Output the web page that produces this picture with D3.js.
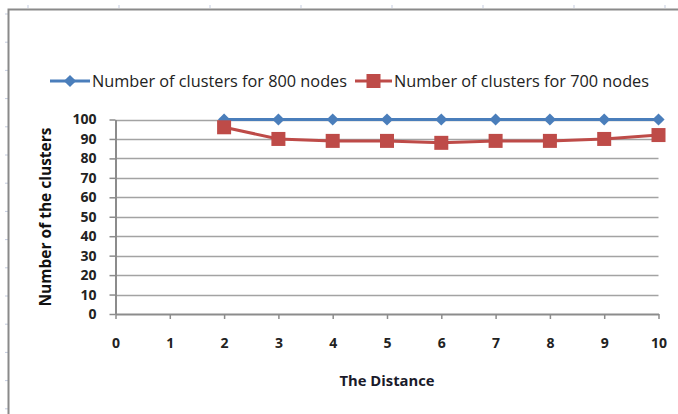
<!DOCTYPE html>
<html>
  <head>
    <meta charset="utf-8">
    <title>Number of clusters</title>
    <script src="https://d3js.org/d3.v7.min.js" charset="utf-8"></script>
    <style>
      body {
        margin: 0;
        overflow: hidden;
        background: #fff;
      }
      text {
        font-family: "Open Sans", "Liberation Sans", Arial, sans-serif;
      }
    </style>
  </head>
  <body>
    <script type="text/javascript">
      var width = 678,
          height = 414;

      // data
      var distance = [2, 3, 4, 5, 6, 7, 8, 9, 10];
      var clusters800 = [100, 100, 100, 100, 100, 100, 100, 100, 100];
      var clusters700 = [96, 90, 89, 89, 88, 89, 89, 90, 92];
      var seriesNames = ["Number of clusters for 800 nodes", "Number of clusters for 700 nodes"];
      var xTicks = [0, 1, 2, 3, 4, 5, 6, 7, 8, 9, 10];
      var yTicks = [0, 10, 20, 30, 40, 50, 60, 70, 80, 90, 100];

      var blue = "#4a7ebb",
          red = "#be4b48";

      var svg = d3.select("body").append("svg")
                  .attr("width", width)
                  .attr("height", height);

      // sheet ruler marks + chart frame
      var rulerX = d3.range(28, width, 91);
      var rulerY = d3.range(14, height, 28.2);
      svg.selectAll(".rx").data(rulerX).enter().append("line")
        .attr("x1", d => d).attr("x2", d => d)
        .attr("y1", 5).attr("y2", 8)
        .attr("stroke", "#c5cde0");
      svg.selectAll(".ry").data(rulerY).enter().append("line")
        .attr("y1", d => d).attr("y2", d => d)
        .attr("x1", 5).attr("x2", 8)
        .attr("stroke", "#c5cde0");
      svg.append("path")
        .attr("d", "M8.5," + height + "V9.5H" + width)
        .attr("fill", "none")
        .attr("stroke", "#8a8a8a")
        .attr("stroke-width", 2);

      var x = d3.scaleLinear().domain([0, 10]).range([115.5, 658.5]);
      var y = d3.scaleLinear().domain([0, 100]).range([314, 119.5]);

      var g = svg.append("g");

      // gridlines
      g.selectAll(".grid").data(yTicks.slice(1)).enter().append("line")
        .attr("x1", x(0)).attr("x2", x(10))
        .attr("y1", d => Math.round(y(d)) + 0.5).attr("y2", d => Math.round(y(d)) + 0.5)
        .attr("stroke", "#a3a3a3")
        .attr("stroke-width", 1.3);

      // y axis
      var yAxis = g.append("g")
        .attr("transform", "translate(" + x(0) + ",0)")
        .call(d3.axisLeft(y).tickValues(yTicks).tickSize(6).tickPadding(13).tickSizeOuter(0));
      // x axis
      var xAxis = g.append("g")
        .attr("transform", "translate(0," + y(0) + ")")
        .call(d3.axisBottom(x).tickValues(xTicks).tickSize(5).tickPadding(19).tickSizeOuter(0));

      [xAxis, yAxis].forEach(function(a) {
        a.select(".domain").attr("stroke", "#8c8c8c").attr("stroke-width", 2);
        a.selectAll(".tick line").attr("stroke", "#8c8c8c").attr("stroke-width", 1.5);
        a.selectAll(".tick text")
          .attr("fill", "#222")
          .style("font-size", "14px")
          .style("font-weight", "700")
          .style("font-family", "'Open Sans', 'Liberation Sans', Arial, sans-serif");
      });

      // axis titles
      g.append("text")
        .attr("transform", "translate(51,217) rotate(-90)")
        .attr("text-anchor", "middle")
        .attr("font-weight", "bold")
        .attr("font-size", "15.5px")
        .attr("fill", "#111")
        .text("Number of the clusters");
      g.append("text")
        .attr("x", x(5))
        .attr("y", 386)
        .attr("text-anchor", "middle")
        .attr("font-weight", "bold")
        .attr("font-size", "14.8px")
        .attr("fill", "#1a1a2a")
        .text("The Distance");

      var line = d3.line()
        .x(d => x(d[0]))
        .y(d => y(d[1]));

      var s800 = distance.map((d, i) => [d, clusters800[i]]);
      var s700 = distance.map((d, i) => [d, clusters700[i]]);

      g.append("path").datum(s800)
        .attr("d", line)
        .attr("fill", "none")
        .attr("stroke", blue)
        .attr("stroke-width", 3);
      g.selectAll(".dia").data(s800).enter().append("path")
        .attr("d", d3.symbol().type(d3.symbolDiamond2).size(95))
        .attr("transform", d => "translate(" + x(d[0]) + "," + y(d[1]) + ")")
        .attr("fill", blue);

      g.append("path").datum(s700)
        .attr("d", line)
        .attr("fill", "none")
        .attr("stroke", red)
        .attr("stroke-width", 3);
      g.selectAll(".sq").data(s700).enter().append("rect")
        .attr("x", d => x(d[0]) - 7)
        .attr("y", d => y(d[1]) - 7)
        .attr("width", 14)
        .attr("height", 14)
        .attr("fill", red);

      // legend
      var legend = svg.append("g");
      var legendItems = [
        {x0: 50, x1: 90, name: seriesNames[0], color: blue, mark: "diamond"},
        {x0: 355, x1: 392, name: seriesNames[1], color: red, mark: "square"}
      ];
      var ly = 81;
      legendItems.forEach(function(it) {
        legend.append("line")
          .attr("x1", it.x0).attr("x2", it.x1)
          .attr("y1", ly).attr("y2", ly)
          .attr("stroke", it.color)
          .attr("stroke-width", 3);
        var cx = (it.x0 + it.x1) / 2;
        if (it.mark === "diamond") {
          legend.append("path")
            .attr("d", d3.symbol().type(d3.symbolDiamond2).size(95))
            .attr("transform", "translate(" + cx + "," + ly + ")")
            .attr("fill", it.color);
        } else {
          legend.append("rect")
            .attr("x", cx - 7).attr("y", ly - 7)
            .attr("width", 14).attr("height", 14)
            .attr("fill", it.color);
        }
        legend.append("text")
          .attr("x", it.x1 + 2)
          .attr("y", ly + 5.5)
          .attr("font-size", "16.3px")
          .attr("fill", "#222")
          .text(it.name);
      });
    </script>
  </body>
</html>
